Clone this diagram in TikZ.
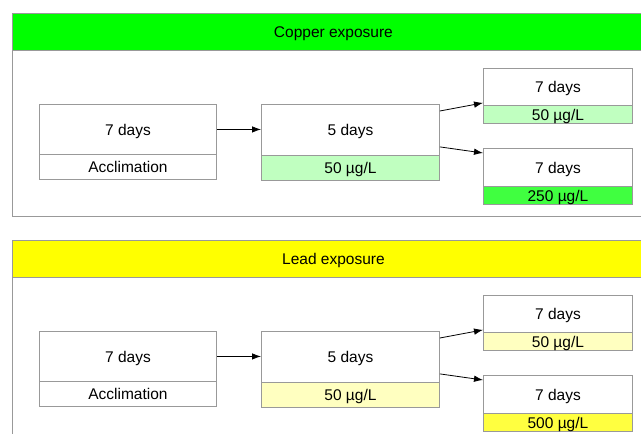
\documentclass[tikz,border=0pt]{standalone}
\usepackage{fontspec}
\setmainfont{Liberation Sans}
\usetikzlibrary{arrows.meta}
\definecolor{grn}{HTML}{00FF00}
\definecolor{lgrn}{HTML}{C0FFC0}
\definecolor{mgrn}{HTML}{40FF40}
\definecolor{yel}{HTML}{FFFF00}
\definecolor{lyel}{HTML}{FFFFC0}
\definecolor{myel}{HTML}{FFFF40}
\definecolor{bord}{HTML}{999999}
\tikzset{
  cell/.style={draw=bord, line width=0.9pt, inner sep=0pt, anchor=north west, text depth=0pt, font=\fontsize{15.5}{17}\selectfont},
  panel/.style={draw=bord, line width=0.9pt, fill=white},
  hdr/.style={draw=bord, line width=0.9pt, inner sep=0pt, anchor=north west, text depth=0pt, minimum width=642pt, minimum height=37pt, font=\fontsize{15.5}{17}\selectfont},
  arr/.style={-{Latex[length=9pt,width=6.5pt]}, line width=0.8pt}
}
\begin{document}
\begin{tikzpicture}[x=1pt,y=-1pt]
\useasboundingbox (0,0) rectangle (641,434);
\clip (0,0) rectangle (641,434);
% Copper panel
\draw[panel] (12,13) rectangle (654,216);
\node[hdr, fill=grn] (chdr) at (12,13) {Copper exposure};
\node[cell, minimum width=177pt, minimum height=50pt] (c1t) at (39,104) {7 days};
\node[cell, minimum width=177pt, minimum height=25pt] (c1b) at (39,154) {Acclimation};
\node[cell, minimum width=178pt, minimum height=51pt] (c2t) at (261,104) {5 days};
\node[cell, minimum width=178pt, minimum height=25pt, fill=lgrn] (c2b) at (261,155) {50 µg/L};
\node[cell, minimum width=149pt, minimum height=37pt] (c3t) at (483,68) {7 days};
\node[cell, minimum width=149pt, minimum height=18pt, fill=lgrn] (c3b) at (483,105) {50 µg/L};
\node[cell, minimum width=149pt, minimum height=38pt] (c4t) at (483,148) {7 days};
\node[cell, minimum width=149pt, minimum height=18pt, fill=mgrn] (c4b) at (483,186) {250 µg/L};
\draw[arr] (c1t.east) -- (c1t.east -| c2t.west);
\draw[arr] ([yshift=-7pt]c2t.north east) -- ([yshift=3pt]c3t.south west);
\draw[arr] ([yshift=9pt]c2t.south east) -- ([yshift=-5pt]c4t.north west);
% Lead panel
\draw[panel] (12,240) rectangle (654,460);
\node[hdr, fill=yel] (lhdr) at (12,240) {Lead exposure};
\node[cell, minimum width=177pt, minimum height=50pt] (l1t) at (39,331) {7 days};
\node[cell, minimum width=177pt, minimum height=25pt] (l1b) at (39,381) {Acclimation};
\node[cell, minimum width=178pt, minimum height=51pt] (l2t) at (261,331) {5 days};
\node[cell, minimum width=178pt, minimum height=25pt, fill=lyel] (l2b) at (261,382) {50 µg/L};
\node[cell, minimum width=149pt, minimum height=37pt] (l3t) at (483,295) {7 days};
\node[cell, minimum width=149pt, minimum height=18pt, fill=lyel] (l3b) at (483,332) {50 µg/L};
\node[cell, minimum width=149pt, minimum height=38pt] (l4t) at (483,375) {7 days};
\node[cell, minimum width=149pt, minimum height=18pt, fill=myel] (l4b) at (483,413) {500 µg/L};
\draw[arr] (l1t.east) -- (l1t.east -| l2t.west);
\draw[arr] ([yshift=-7pt]l2t.north east) -- ([yshift=3pt]l3t.south west);
\draw[arr] ([yshift=9pt]l2t.south east) -- ([yshift=-5pt]l4t.north west);
\end{tikzpicture}
\end{document}
